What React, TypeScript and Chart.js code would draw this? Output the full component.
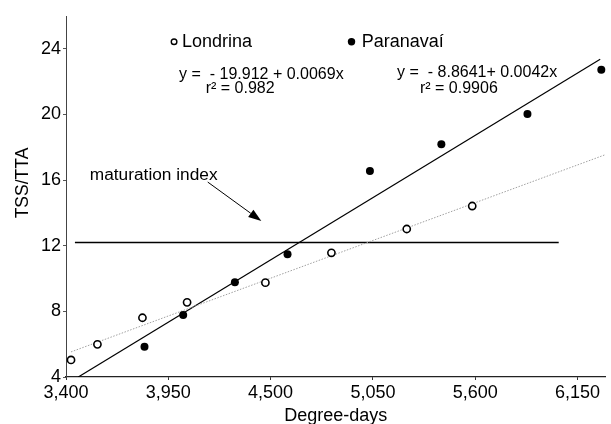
import React, { useEffect, useRef } from "react";
import { Chart, registerables } from "chart.js";

Chart.register(...registerables);

// Axis ticks
const X_TICKS = [3400, 3950, 4500, 5050, 5600, 6150];
const X_TICK_LABELS = ["3,400", "3,950", "4,500", "5,050", "5,600", "6,150"];
const Y_TICKS = [4, 8, 12, 16, 20, 24];

const LONDRINA_X = [3427, 3569, 3811, 4051, 4472, 4827, 5232, 5584];
const LONDRINA_Y = [5.04, 5.99, 7.61, 8.55, 9.75, 11.57, 13.02, 14.42];
const PARANAVAI_X = [3822, 4030, 4308, 4591, 5034, 5418, 5881, 6278];
const PARANAVAI_Y = [5.85, 7.78, 9.77, 11.48, 16.55, 18.18, 20.03, 22.73];

// Fitted lines (end points)
const LONDRINA_FIT_X = [3427, 6300];
const LONDRINA_FIT_Y = [5.53, 17.55];
const PARANAVAI_FIT_X = [3466, 6272];
const PARANAVAI_FIT_Y = [4.0, 23.36];

// Maturation index line
const MATURATION_X = [3448, 6049];
const MATURATION_Y = [12.2, 12.2];

// Text labels
const SERIES_NAMES = ["Londrina", "Paranavaí"];
const EQUATIONS = ["y =  - 19.912 + 0.0069x", "y =  - 8.8641+ 0.0042x"];
const R2_LABELS = ["r² = 0.982", "r² = 0.9906"];
const MATURATION_LABEL = "maturation index";
const X_TITLE = "Degree-days";
const Y_TITLE = "TSS/TTA";

const FONT = '"Liberation Sans", Arial, Helvetica, sans-serif';

const zip = (xs: number[], ys: number[]) => xs.map((x, i) => ({ x, y: ys[i] }));

export default function App() {
  const ref = useRef<HTMLCanvasElement | null>(null);

  useEffect(() => {
    const canvas = ref.current;
    if (!canvas) return;

    const annotations = {
      id: "annotations",
      afterDraw(chart: any) {
        const ctx = chart.ctx as CanvasRenderingContext2D;
        const xs = chart.scales.x;
        const ys = chart.scales.y;
        const px = (v: number) => xs.getPixelForValue(v);
        const py = (v: number) => ys.getPixelForValue(v);
        const ca = chart.chartArea;

        const text = (s: string, x: number, yc: number, size: number, align: CanvasTextAlign = "left") => {
          ctx.font = `${size}px ${FONT}`;
          ctx.fillStyle = "#000";
          ctx.textAlign = align;
          ctx.textBaseline = "alphabetic";
          ctx.fillText(s, x, yc + 0.358 * size);
        };

        ctx.save();
        // Legend markers
        ctx.beginPath();
        ctx.arc(px(3981), py(24.43), 2.8, 0, Math.PI * 2);
        ctx.fillStyle = "#fff";
        ctx.fill();
        ctx.lineWidth = 1.4;
        ctx.strokeStyle = "#000";
        ctx.stroke();

        ctx.beginPath();
        ctx.arc(px(4935), py(24.43), 3.7, 0, Math.PI * 2);
        ctx.fillStyle = "#000";
        ctx.fill();

        text(SERIES_NAMES[0], px(4024), py(24.48), 18);
        text(SERIES_NAMES[1], px(4990), py(24.48), 18);

        text(EQUATIONS[0], px(4008), py(22.53), 16);
        text(R2_LABELS[0], px(4151), py(21.64), 16);
        text(EQUATIONS[1], px(5180), py(22.66), 16);
        text(R2_LABELS[1], px(5303), py(21.64), 16);

        text(MATURATION_LABEL, px(3528), py(16.37), 17.3);

        // Arrow
        const x0 = px(4162), y0 = py(15.88), x1 = px(4450), y1 = py(13.51);
        const ang = Math.atan2(y1 - y0, x1 - x0);
        const hl = 13, hw = 4.5;
        const bx = x1 - hl * Math.cos(ang), by = y1 - hl * Math.sin(ang);
        ctx.beginPath();
        ctx.moveTo(x0, y0);
        ctx.lineTo(bx, by);
        ctx.strokeStyle = "#000";
        ctx.lineWidth = 1;
        ctx.stroke();
        ctx.beginPath();
        ctx.moveTo(x1, y1);
        ctx.lineTo(bx + hw * Math.sin(ang), by - hw * Math.cos(ang));
        ctx.lineTo(bx - hw * Math.sin(ang), by + hw * Math.cos(ang));
        ctx.closePath();
        ctx.fillStyle = "#000";
        ctx.fill();

        // Axis titles
        text(X_TITLE, (ca.left + ca.right) / 2, 415, 18, "center");
        ctx.save();
        ctx.translate(21.5, 183);
        ctx.rotate(-Math.PI / 2);
        text(Y_TITLE, 0, 0, 17.5, "center");
        ctx.restore();

        ctx.restore();
      },
    };

    const chart = new Chart(canvas, {
      type: "scatter",
      data: {
        datasets: [
          {
            label: SERIES_NAMES[0],
            data: zip(LONDRINA_X, LONDRINA_Y),
            pointRadius: 3.6,
            pointBorderWidth: 1.6,
            pointBorderColor: "#000",
            pointBackgroundColor: "#fff",
            showLine: false,
          },
          {
            label: SERIES_NAMES[1],
            data: zip(PARANAVAI_X, PARANAVAI_Y),
            pointRadius: 4,
            pointBorderWidth: 0,
            pointBackgroundColor: "#000",
            pointBorderColor: "#000",
            showLine: false,
            clip: false as any,
          },
          {
            label: "Londrina fit",
            data: zip(LONDRINA_FIT_X, LONDRINA_FIT_Y),
            showLine: true,
            pointRadius: 0,
            borderColor: "#a0a0a0",
            borderWidth: 1,
            borderDash: [1.5, 1.5],
          },
          {
            label: "Paranavaí fit",
            data: zip(PARANAVAI_FIT_X, PARANAVAI_FIT_Y),
            showLine: true,
            pointRadius: 0,
            borderColor: "#000",
            borderWidth: 1.2,
          },
          {
            label: "maturation index",
            data: zip(MATURATION_X, MATURATION_Y),
            showLine: true,
            pointRadius: 0,
            borderColor: "#000",
            borderWidth: 1.5,
          },
        ],
      },
      options: {
        responsive: false,
        animation: false,
        events: [],
        layout: { padding: { top: 16, right: 1, left: 0, bottom: 0 } },
        plugins: {
          legend: { display: false },
          tooltip: { enabled: false },
        },
        scales: {
          x: {
            type: "linear",
            min: 3400,
            max: 6300,
            afterBuildTicks: (s: any) => {
              s.ticks = X_TICKS.map((v) => ({ value: v }));
            },
            afterFit: (s: any) => {
              s.height = 47;
            },
            grid: { drawOnChartArea: false, drawTicks: true, tickLength: 3, color: "#333" },
            border: { display: true, color: "#222", width: 1.2 },
            ticks: {
              autoSkip: false,
              maxRotation: 0,
              padding: 2,
              color: "#000",
              font: { family: FONT, size: 18 },
              callback: (_v: any, i: number) => X_TICK_LABELS[i],
            },
          },
          y: {
            type: "linear",
            min: 4,
            max: 26,
            afterBuildTicks: (s: any) => {
              s.ticks = Y_TICKS.map((v) => ({ value: v }));
            },
            afterFit: (s: any) => {
              s.width = 66;
            },
            grid: { drawOnChartArea: false, drawTicks: true, tickLength: 3, color: "#555" },
            border: { display: true, color: "#444", width: 1 },
            ticks: {
              padding: 2,
              color: "#000",
              font: { family: FONT, size: 18 },
              callback: (v: any) => String(v),
            },
          },
        },
      },
      plugins: [annotations],
    });

    return () => chart.destroy();
  }, []);

  return (
    <div style={{ position: "absolute", left: 0, top: 0, width: 611, height: 424, background: "#fff" }}>
      <canvas ref={ref} width={611} height={424} style={{ width: 611, height: 424, display: "block" }} />
    </div>
  );
}
